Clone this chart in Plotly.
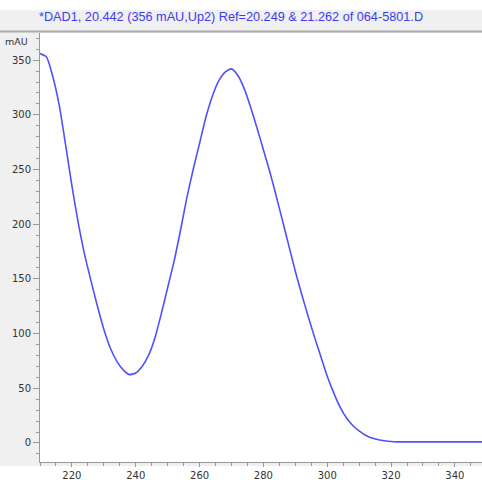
import plotly.graph_objects as go

wavelength = list(range(210, 352, 2))
absorbance = [356, 353, 335, 309, 273, 235, 201, 172, 148, 125, 104, 87, 75, 67, 62.5, 64,
              70, 80, 96, 118, 142, 166, 194, 224, 250, 274, 298, 317, 331, 339, 342, 336,
              324, 307, 288, 268, 248, 226, 203, 180, 157, 136, 116, 97, 79, 61, 46, 33,
              23, 16, 11, 7, 4.5, 3, 2, 1.3, 1, 1, 1, 1, 1, 1, 1, 1, 1, 1, 1, 1, 1, 1, 1]
wavelength = wavelength[:len(absorbance)]

x_ticks = [220, 240, 260, 280, 300, 320, 340]
y_ticks = [0, 50, 100, 150, 200, 250, 300, 350]
title_text = "*DAD1, 20.442 (356 mAU,Up2) Ref=20.249 & 21.262 of 064-5801.D"
y_unit = "mAU"

W, H = 482, 487
L, R, T, B = 40, 0, 33, 25
PW, PH = W - L - R, H - T - B

fig = go.Figure()
fig.add_trace(go.Scatter(x=wavelength, y=absorbance, mode="lines",
                         line=dict(color="#5050ff", width=1.6, shape="spline", smoothing=0.6),
                         hoverinfo="skip"))

axis_font = dict(family="DejaVu Sans", size=10, color="#333333")
fig.update_layout(
    width=W, height=H,
    margin=dict(l=L, r=R, t=T, b=B, pad=0),
    paper_bgcolor="#f0f0f0",
    plot_bgcolor="white",
    showlegend=False,
    xaxis=dict(range=[210, 348.5], tickvals=x_ticks, ticks="outside", ticklen=4,
               tickcolor="#999999", showline=True, linecolor="#999999", linewidth=1,
               showgrid=False, zeroline=False, tickfont=axis_font,
               minor=dict(dtick=5, tick0=210, ticks="outside", ticklen=3, tickcolor="#999999")),
    yaxis=dict(range=[-17.4, 374.8], tickvals=y_ticks, ticks="outside", ticklen=6,
               tickcolor="#999999", showline=True, linecolor="#999999", linewidth=1,
               showgrid=False, zeroline=False, tickfont=axis_font,
               minor=dict(dtick=10, tick0=0, ticks="outside", ticklen=3, tickcolor="#999999")),
    shapes=[
        dict(type="rect", xref="paper", yref="paper", x0=-L / PW, x1=1,
             y0=1 + (T - 10) / PH, y1=1 + T / PH + 0.01,
             fillcolor="white", line=dict(width=0), layer="below"),
        dict(type="line", xref="paper", yref="paper", x0=-L / PW, x1=1,
             y0=1 + 1.5 / PH, y1=1 + 1.5 / PH,
             line=dict(color="#a8a8a8", width=2)),
        dict(type="rect", xref="paper", yref="paper", x0=-L / PW, x1=1,
             y0=-(B + 2) / PH, y1=-(B - 21) / PH,
             fillcolor="white", line=dict(width=0), layer="below"),
    ],
    annotations=[
        dict(text=title_text, xref="paper", yref="paper", x=-3 / PW, y=1 + 16 / PH,
             xanchor="left", yanchor="middle", showarrow=False,
             font=dict(family="Liberation Sans", size=12.7, color="#3c3cf0")),
        dict(text=y_unit, xref="paper", yref="paper", x=-37 / PW, y=1 - 9 / PH,
             xanchor="left", yanchor="middle", showarrow=False,
             font=dict(family="DejaVu Sans", size=9.5, color="#333333")),
    ],
)

fig.write_html("out.html", config={"displayModeBar": False, "staticPlot": True},
               post_script="document.body.style.margin='0';document.body.style.overflow='hidden';")
